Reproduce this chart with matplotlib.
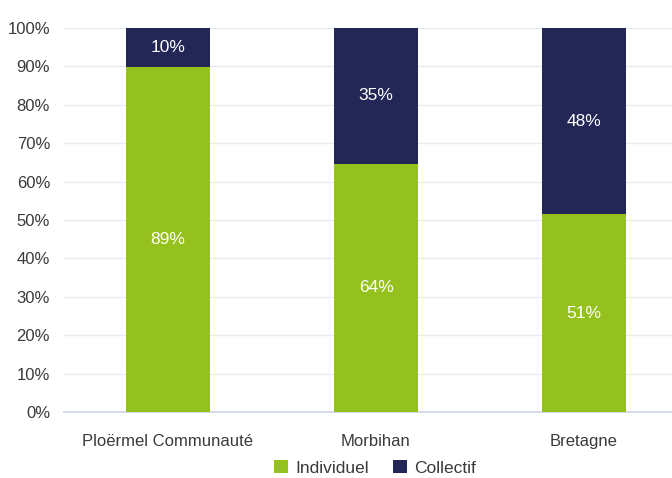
import matplotlib
matplotlib.use("Agg")
import matplotlib.pyplot as plt
import numpy as np

plt.rcParams['font.family'] = ['Liberation Sans', 'DejaVu Sans']

categories = ["Ploërmel Communauté", "Morbihan", "Bretagne"]
individuel = [89, 64, 51]
collectif = [10, 35, 48]

GREEN = "#95C11F"
NAVY = "#232755"
TXT = "#3A3A3A"

ind = np.array(individuel, float)
col = np.array(collectif, float)
tot = ind + col
ind_p = ind / tot * 100
col_p = col / tot * 100

fig = plt.figure(figsize=(6.72, 4.78), dpi=100)
ax = fig.add_axes([64 / 672, 1 - 412 / 478, (672 - 64) / 672, (412 - 28) / 478])
x = np.arange(len(categories))
w = 0.4
ax.bar(x, ind_p, w, color=GREEN, label="Individuel", zorder=3)
ax.bar(x, col_p, w, bottom=ind_p, color=NAVY, label="Collectif", zorder=3)

for i in range(len(x)):
    ax.text(x[i], ind_p[i] / 2, f"{individuel[i]}%", ha="center", va="center",
            color="white", fontsize=12.5)
    ax.text(x[i], ind_p[i] + col_p[i] / 2, f"{collectif[i]}%", ha="center", va="center",
            color="white", fontsize=12.5)

ax.set_xlim(-0.5, 608 / 208 - 0.5)
ax.set_ylim(0, 100)
ax.set_yticks(range(0, 101, 10))
ax.set_yticklabels([f"{v}%" for v in range(0, 101, 10)])
ax.set_xticks(x)
ax.set_xticklabels(categories)
ax.tick_params(axis="both", length=0, labelsize=12, colors=TXT)
ax.tick_params(axis="x", pad=16)
ax.tick_params(axis="y", pad=10)
ax.grid(axis="y", color="#E6EAF1", lw=1, zorder=0)
for s in ["top", "right", "left"]:
    ax.spines[s].set_visible(False)
ax.spines["bottom"].set_color("#D5DCE8")
ax.spines["bottom"].set_linewidth(1.5)

fig.legend(loc="center", bbox_to_anchor=(375 / 672, 1 - 468 / 478), ncol=2, frameon=False,
           fontsize=12.5, handlelength=0.8, handleheight=0.8, handletextpad=0.4,
           columnspacing=1.4, labelcolor=TXT)

fig.savefig("out.png", dpi=100)
